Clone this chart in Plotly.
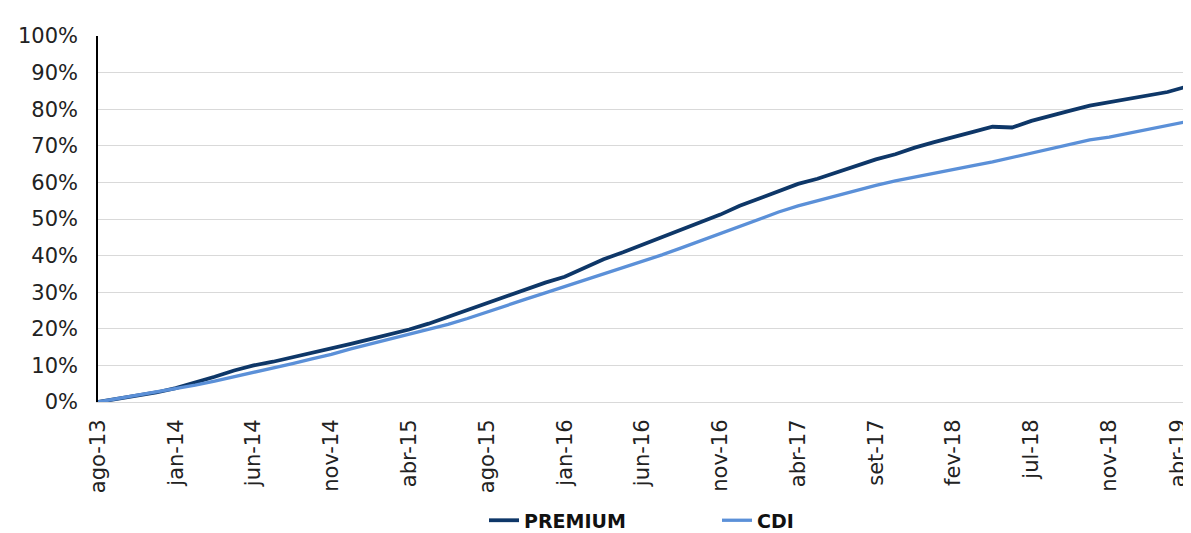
import plotly.graph_objects as go

# observation index (quarter of a tick interval per step)
obs = list(range(57))
tick_labels = ["ago-13", "jan-14", "jun-14", "nov-14", "abr-15", "ago-15", "jan-16",
               "jun-16", "nov-16", "abr-17", "set-17", "fev-18", "jul-18", "nov-18", "abr-19"]
tick_obs = [0, 4, 8, 12, 16, 20, 24, 28, 32, 36, 40, 44, 48, 52, 56]

premium = [0.0, 0.9, 1.7, 2.6, 3.8, 5.3, 6.9, 8.6, 10.0, 11.0, 12.2, 13.3, 14.5, 15.9, 17.2,
           18.5, 19.8, 21.4, 23.3, 25.2, 27.0, 29.0, 30.8, 32.6, 34.2, 36.6, 39.0, 40.9,
           43.0, 45.0, 47.1, 49.2, 51.2, 53.6, 55.6, 57.8, 59.6, 61.0, 62.8, 64.7, 66.3,
           67.7, 69.5, 71.0, 72.3, 73.8, 75.2, 75.0, 76.8, 78.3, 79.6, 81.0, 81.9, 82.9,
           83.9, 84.7, 86.2]
cdi = [0.0, 0.9, 1.8, 2.7, 3.6, 4.6, 5.7, 6.9, 8.0, 9.1, 10.5, 11.8, 13.0, 14.5, 15.8,
       17.2, 18.5, 19.8, 21.2, 22.8, 24.6, 26.5, 28.1, 29.8, 31.5, 33.2, 34.9, 36.6, 38.4,
       40.2, 42.1, 44.1, 46.1, 48.1, 50.0, 51.9, 53.6, 55.0, 56.6, 57.9, 59.2, 60.4, 61.5,
       62.6, 63.6, 64.6, 65.6, 66.8, 67.9, 69.0, 70.2, 71.6, 72.4, 73.5, 74.5, 75.6, 76.6]

FONT = "DejaVu Sans, Liberation Sans, Arial, sans-serif"

# like Excel, the last label is nudged inward so it stays inside the picture
tick_pos = tick_obs[:-1] + [tick_obs[-1] - 0.45]

fig = go.Figure()
fig.add_trace(go.Scatter(x=obs, y=[v / 100 for v in premium], mode="lines", name="PREMIUM",
                         line=dict(color="#0E3768", width=3.8)))
fig.add_trace(go.Scatter(x=obs, y=[v / 100 for v in cdi], mode="lines", name="CDI",
                         line=dict(color="#5B90D8", width=3.3)))

fig.update_layout(
    width=1183, height=525,
    margin=dict(l=90, r=4, t=28, b=131),
    paper_bgcolor="white", plot_bgcolor="white",
    font=dict(family=FONT, color="#222222"),
    showlegend=True,
    legend=dict(orientation="h", xref="container", x=476 / 1183, xanchor="left",
                yref="container", y=0.024, yanchor="middle",
                entrywidth=188, entrywidthmode="pixels",
                font=dict(size=19, color="#111111", family=FONT, weight="bold"),
                itemwidth=30, traceorder="normal"),
    xaxis=dict(range=[0, 56], tickmode="array", tickvals=tick_pos, ticktext=tick_labels,
               tickangle=-90, tickfont=dict(size=21), showgrid=False, zeroline=False,
               showline=True, linecolor="#d9d9d9", linewidth=1, ticks="outside", ticklen=8,
               tickcolor="rgba(0,0,0,0)", automargin=False, ticklabeloverflow="allow"),
    yaxis=dict(range=[0, 1], tickmode="array", tickvals=[i / 10 for i in range(11)],
               tickformat=".0%", tickfont=dict(size=21), showgrid=True, gridcolor="#d9d9d9",
               gridwidth=1, zeroline=False, showline=True, linecolor="black", linewidth=1.5,
               ticks="outside", ticklen=14, tickcolor="rgba(0,0,0,0)", automargin=False),
)

fig.write_html("out.html")
